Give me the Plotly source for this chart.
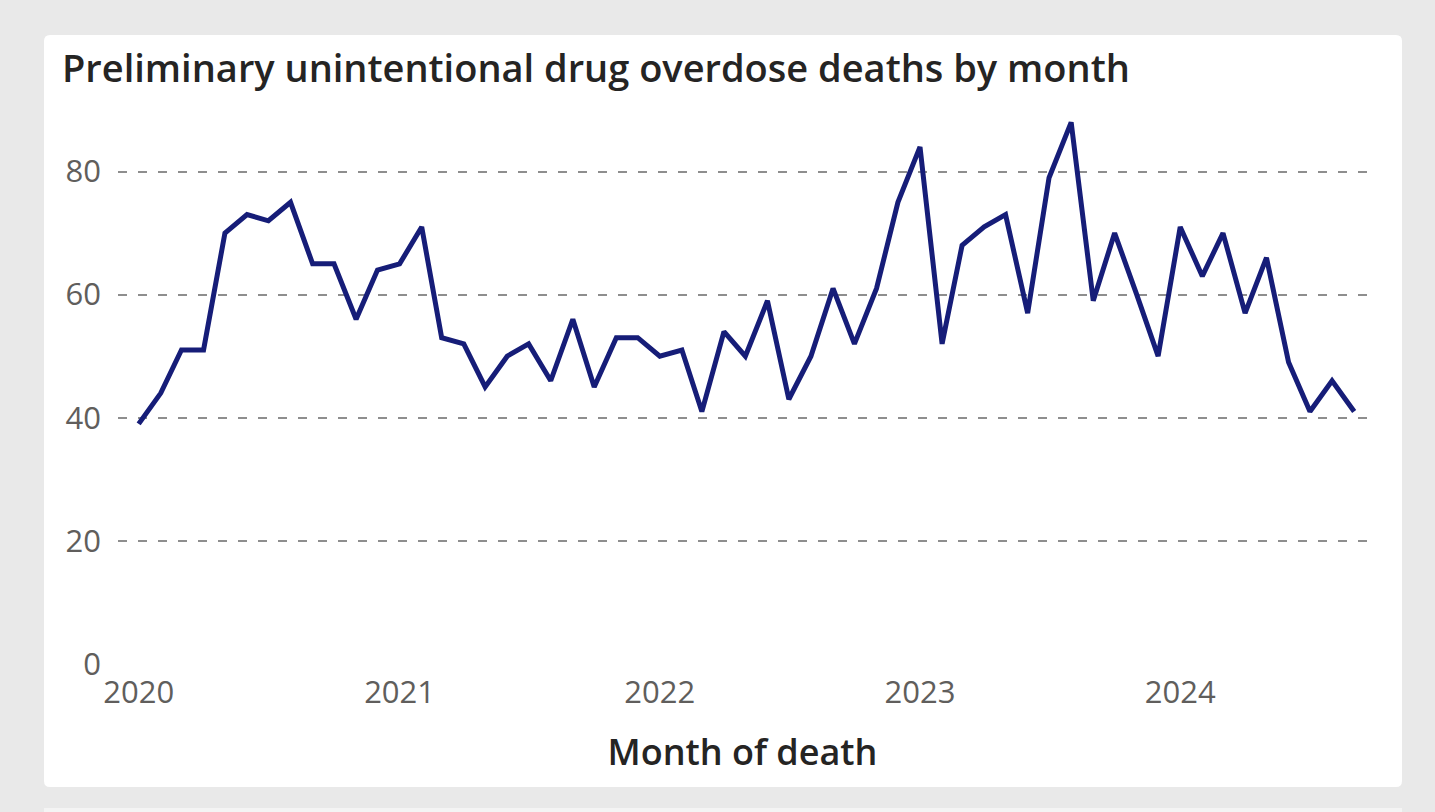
import plotly.graph_objects as go

# ---- data ----
months = [f"{y}-{m:02d}-01" for y in range(2020, 2025) for m in range(1, 13)][:57]
deaths = [39, 44, 51, 51, 70, 73, 72, 75, 65, 65, 56, 64,
          65, 71, 53, 52, 45, 50, 52, 46, 56, 45, 53, 53,
          50, 51, 41, 54, 50, 59, 43, 50, 61, 52, 61, 75,
          84, 52, 68, 71, 73, 57, 79, 88, 59, 70, 60, 50,
          71, 63, 70, 57, 66, 49, 41, 46, 41]
y_ticks = [0, 20, 40, 60, 80]
title_text = "Preliminary unintentional drug overdose deaths by month"
x_title = "Month of death"

# ---- layout geometry (pixels) ----
W, H = 1435, 812
ML, MR, MT, MB = 118, 68, 110, 148
PW, PH = W - ML - MR, H - MT - MB


def px(x):
    return (x - ML) / PW


def py(y):
    return (H - MB - y) / PH


def rounded_rect(x0, y0, x1, y1, r):
    return (f"M {px(x0 + r)},{py(y0)} L {px(x1 - r)},{py(y0)} "
            f"Q {px(x1)},{py(y0)} {px(x1)},{py(y0 + r)} "
            f"L {px(x1)},{py(y1 - r)} Q {px(x1)},{py(y1)} {px(x1 - r)},{py(y1)} "
            f"L {px(x0 + r)},{py(y1)} Q {px(x0)},{py(y1)} {px(x0)},{py(y1 - r)} "
            f"L {px(x0)},{py(y0 + r)} Q {px(x0)},{py(y0)} {px(x0 + r)},{py(y0)} Z")


fig = go.Figure()
fig.add_trace(go.Scatter(
    x=months, y=deaths, mode="lines",
    line=dict(color="#161D78", width=5),
    hoverinfo="x+y", showlegend=False,
))

fig.update_layout(
    width=W, height=H,
    margin=dict(l=ML, r=MR, t=MT, b=MB, pad=0),
    paper_bgcolor="#E9E9E9",
    plot_bgcolor="rgba(0,0,0,0)",
    font=dict(family="Open Sans, sans-serif"),
    title=dict(
        text=title_text, xref="container", yref="container",
        x=62 / W, xanchor="left", y=1 - 69 / H, yanchor="middle",
        font=dict(size=38, color="#252423", family="Open Sans", weight=600),
    ),
    shapes=[
        dict(type="path", xref="paper", yref="paper", layer="below",
             path=rounded_rect(44, 35, 1402, 787, 6),
             fillcolor="white", line=dict(width=0)),
        dict(type="rect", xref="paper", yref="paper", layer="below",
             x0=px(44), x1=px(1402), y0=py(820), y1=py(808),
             fillcolor="#F4F4F4", line=dict(width=0)),
    ],
    xaxis=dict(
        type="date",
        range=["2019-12-03", "2024-09-19"],
        tick0="2020-01-01", dtick="M12", tickformat="%Y",
        showgrid=False, zeroline=False, showline=False,
        tickfont=dict(size=31, color="#605E5C"),
        ticks="", ticklabelstandoff=7,
        title=dict(text=x_title, standoff=28,
                   font=dict(size=36, color="#252423", weight=600)),
    ),
    yaxis=dict(
        range=[-0.02, 90],
        tickvals=y_ticks,
        showgrid=True, gridcolor="#8E8E8E", gridwidth=2, griddash="9px,11px",
        zeroline=False, showline=False,
        tickfont=dict(size=31, color="#605E5C"),
        ticks="", ticklabelstandoff=16,
    ),
)

fig.write_html("out.html", config={"displayModeBar": False})

# remove the default page margin so the figure sits at the window origin
with open("out.html", "r", encoding="utf-8") as f:
    html = f.read()
html = html.replace("<body>", '<body style="margin:0;background:#E9E9E9;overflow:hidden">', 1)
with open("out.html", "w", encoding="utf-8") as f:
    f.write(html)
